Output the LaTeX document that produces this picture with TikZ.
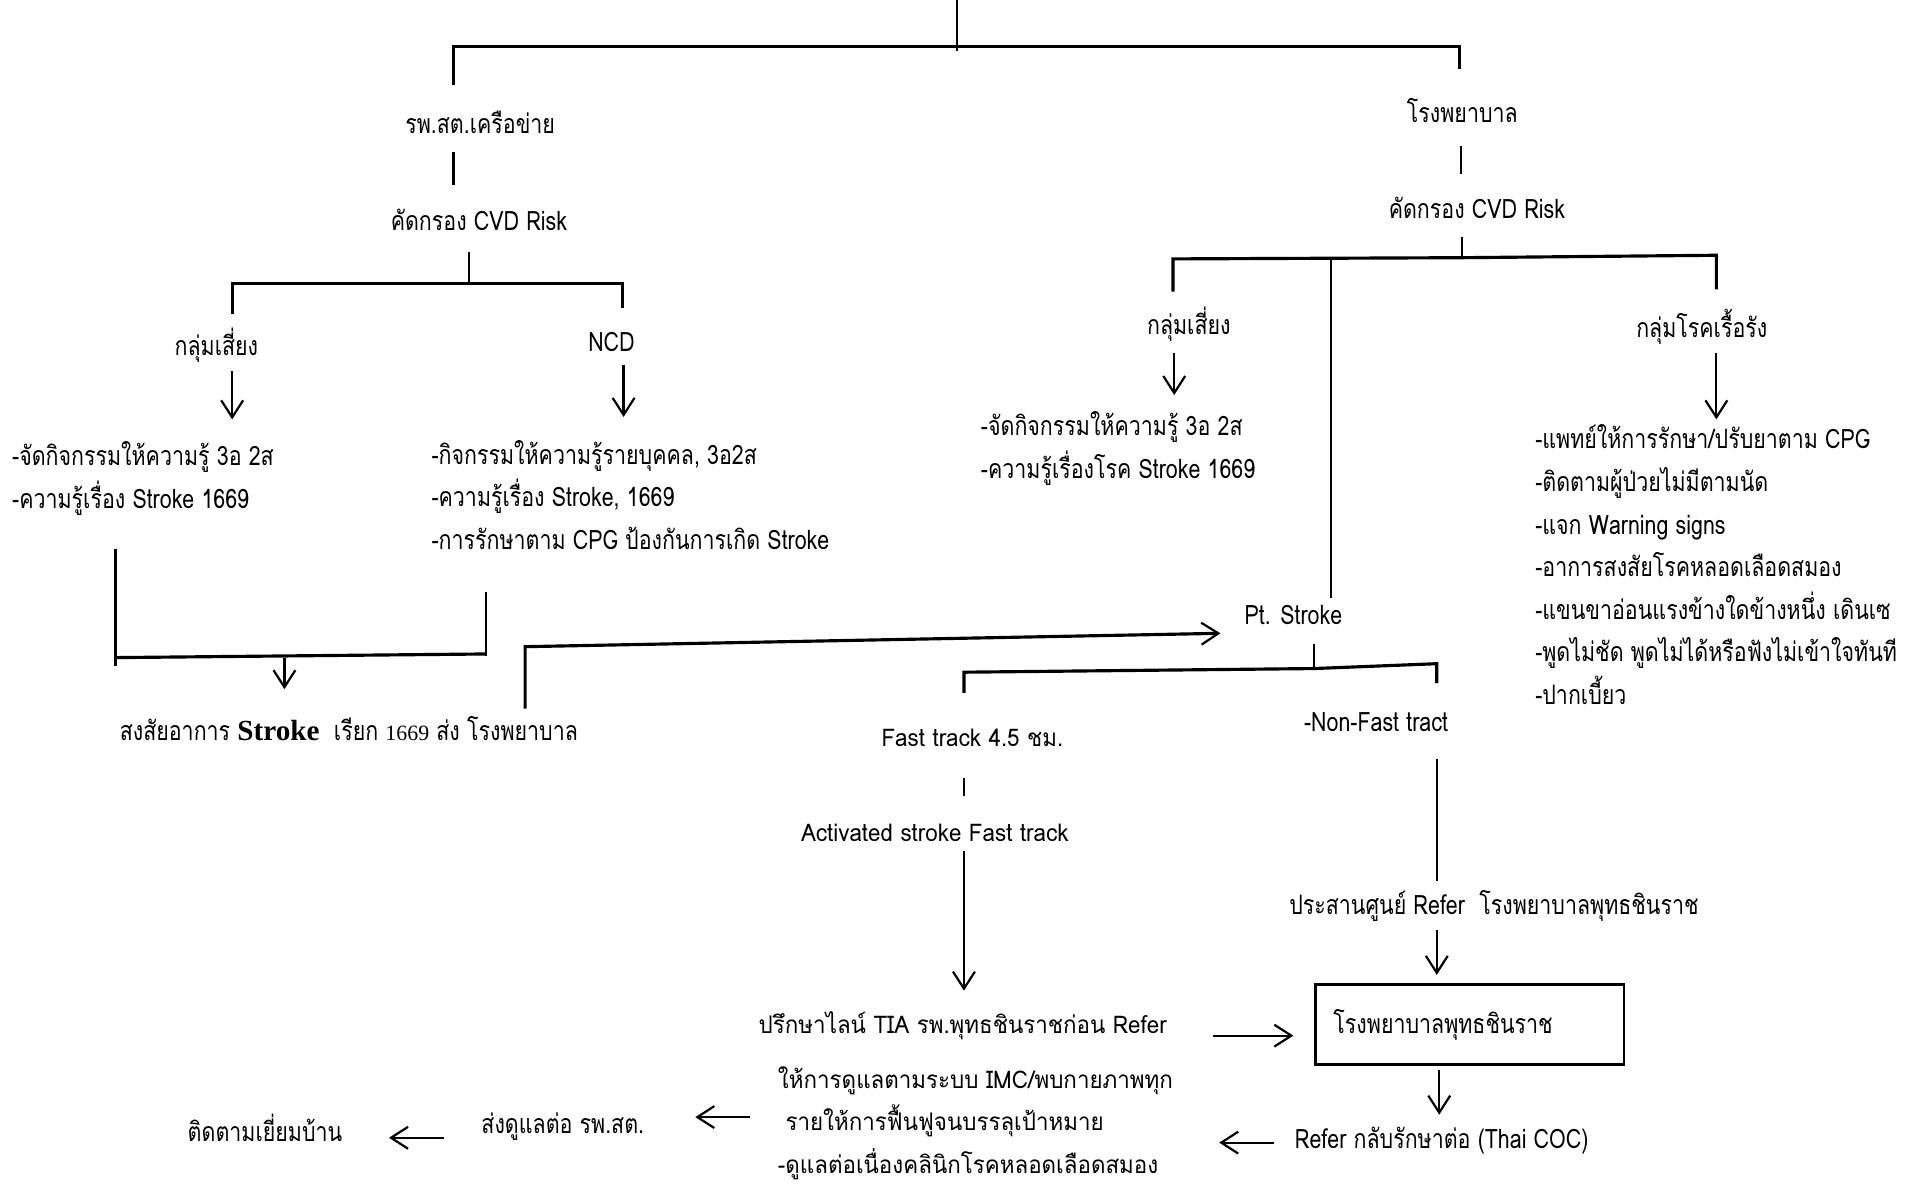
\documentclass[tikz,border=0pt]{standalone}
\usepackage{fontspec}
\setmainfont[Script=Thai]{Loma}
\newfontfamily\thnarrow[Script=Thai,FakeStretch=0.8]{Loma}
\newfontfamily\thwide[Script=Thai,FakeStretch=0.92]{Loma}
\newfontfamily\serifbold{Liberation Serif}
\usetikzlibrary{arrows.meta,calc}

\begin{document}
\begin{tikzpicture}[x=0.5pt,y=-0.5pt,
  every node/.style={inner sep=0pt,outer sep=0pt},
  lbl/.style={font=\thnarrow\fontsize{11}{17.5}\selectfont},
  wlbl/.style={font=\thwide\fontsize{10}{17.5}\selectfont},
  blk/.style={lbl,align=left,anchor=west},
  wblk/.style={wlbl,align=left,anchor=west},
  ln/.style={line width=0.9pt},
  bar/.style={line width=1.3pt},
  tip/.style={-{Straight Barb[length=7pt,width=9pt,line width=0.9pt]}},
  arr/.style={line width=0.9pt,tip},
  hbox/.style={draw,line width=1.2pt,minimum width=127pt,minimum height=33pt,
    text width=112pt,inner xsep=7.5pt,align=left},
]
\useasboundingbox (0,0) rectangle (1568,977);

% ---------- left branch: health-promoting hospitals ----------
\node[lbl] (netw)  at (395,101) {รพ.สต.เครือข่าย};
\node[lbl] (cvdL)  at (394,181) {คัดกรอง CVD Risk};
\node[lbl] (riskL) at (178,284) {กลุ่มเสี่ยง};
\node[lbl] (ncd)   at (503,281) {NCD};
\node[blk] (actL)  at (10,393.5) {-จัดกิจกรรมให้ความรู้ 3อ 2ส\\-ความรู้เรื่อง Stroke 1669};
\node[blk] (actN)  at (355,407) {-กิจกรรมให้ความรู้รายบุคคล, 3อ2ส\\-ความรู้เรื่อง Stroke, 1669\\-การรักษาตาม CPG ป้องกันการเกิด Stroke};
\node[lbl] (susp)  at (287,599) {สงสัยอาการ {\serifbold\bfseries\fontsize{12}{14}\selectfont Stroke}\ \ เรียก {\serifbold\fontsize{9}{12}\selectfont 1669} ส่ง โรงพยาบาล};

% ---------- right branch: hospital ----------
\node[lbl] (hosp)   at (1203,91)  {โรงพยาบาล};
\node[lbl] (cvdR)   at (1215,171) {คัดกรอง CVD Risk};
\node[lbl] (riskR)  at (978,267)  {กลุ่มเสี่ยง};
\node[lbl] (chron)  at (1400,269) {กลุ่มโรคเรื้อรัง};
\node[blk] (actR)   at (807,369)  {-จัดกิจกรรมให้ความรู้ 3อ 2ส\\-ความรู้เรื่องโรค Stroke 1669};
\node[blk] (actC)   at (1263,464.5) {-แพทย์ให้การรักษา/ปรับยาตาม CPG\\-ติดตามผู้ป่วยไม่มีตามนัด\\-แจก Warning signs\\-อาการสงสัยโรคหลอดเลือดสมอง\\-แขนขาอ่อนแรงข้างใดข้างหนึ่ง เดินเซ\\-พูดไม่ชัด พูดไม่ได้หรือฟังไม่เข้าใจทันที\\-ปากเบี้ยว};

% ---------- stroke pathway ----------
\node[lbl]  (pt)      at (1064,506) {Pt. Stroke};
\node[wlbl] (fast)    at (800,607)  {Fast track 4.5 ชม.};
\node[lbl]  (nonfast) at (1132,594) {-Non-Fast tract};
\node[wlbl] (activ)   at (769,685)  {Activated stroke Fast track};
\node[wlbl] (consult) at (792,844)  {ปรึกษาไลน์ TIA รพ.พุทธชินราชก่อน Refer};
\node[lbl]  (coord)   at (1229,745) {ประสานศูนย์ Refer\ \ โรงพยาบาลพุทธชินราช};
\node[hbox,lbl] (bud) at (1209,843) {โรงพยาบาลพุทธชินราช};
\node[lbl]  (back)    at (1186,938) {Refer กลับรักษาต่อ (Thai COC)};
\node[wblk] (imc)     at (640,924)  {ให้การดูแลตามระบบ IMC/พบกายภาพทุก\\\ รายให้การฟื้นฟูจนบรรลุเป้าหมาย\\-ดูแลต่อเนื่องคลินิกโรคหลอดเลือดสมอง};
\node[lbl]  (send)    at (463,927)  {ส่งดูแลต่อ รพ.สต.};
\node[lbl]  (visit)   at (218,928)  {ติดตามเยี่ยมบ้าน};

% ---------- junctions ----------
\coordinate (root)  at (787,0);
\coordinate (jRoot) at (787,38);
\coordinate (jL)    at (373,38);
\coordinate (jR)    at (1201,38);
\coordinate (jCL)   at (386,233);
\coordinate (jCR)   at (1203,212);
\coordinate (jMerge) at (234,541);
\coordinate (jPt)   at (1081,550);

% top split
\draw[ln] (root) -- ($(jRoot)+(0,4)$);
\draw[bar] ($(netw.center)+(-22,-31)$) -- (jL) -- (jR) -- ($(hosp.center)+(-2,-34)$);

% left column
\draw[ln] ($(netw.center)+(-22,24)$) -- ($(cvdL.center)+(-21,-29)$);
\draw[ln] ($(cvdL.center)+(-8,26)$) -- (jCL);
\draw[bar] ($(riskL.center)+(13,-26)$) |- (jCL) -| ($(ncd.center)+(9,-28)$);
\draw[arr] ($(riskL.center)+(13,21)$) -- ($(actL.west)+(181,-48.5)$);
\draw[arr] ($(ncd.center)+(10,19)$) -- ($(actN.west)+(158,-64)$);

% merge of the two left groups
\draw[ln] ($(actL.west)+(85,58.5)$) -- ($(actL.west)+(85,154.5)$);
\draw[ln] ($(actN.west)+(45,80)$) -- ($(actN.west)+(45,133)$);
\draw[bar] ($(actL.west)+(85,147.5)$) -- ($(actN.west)+(45,131)$);
\draw[arr] (jMerge) -- ($(susp.center)+(-53,-32)$);

% emergency call towards the hospital
\draw[bar,tip]
  ($(susp.center)+(145,-16)$) -- ($(susp.center)+(145,-67)$) -- ($(pt.center)+(-60,15)$);

% right column
\draw[ln] ($(hosp.center)+(-1,29)$) -- ($(cvdR.center)+(-13,-28)$);
\draw[ln] ($(cvdR.center)+(-12,24)$) -- (jCR);
\draw[bar] ($(riskR.center)+(-13,-27)$) -- ($(riskR.center)+(-13,-54)$) -- (jCR)
  -- ($(chron.center)+(12,-59)$) -- ($(chron.center)+(12,-31)$);
\draw[ln] ($(riskR.center)+(117,-54)$) -- ($(pt.center)+(31,-14)$);
\draw[arr] ($(riskR.center)+(-12,23)$) -- ($(riskR.center)+(-12,58)$);
\draw[arr] ($(chron.center)+(12,21)$) -- ($(chron.center)+(12,76)$);

% patient split
\draw[ln] ($(pt.center)+(17,24)$) -- (jPt);
\draw[bar] ($(fast.center)+(-7,-37)$) -- ($(fast.center)+(-7,-54)$) -- (jPt)
  -- ($(nonfast.center)+(50,-48)$) -- ($(nonfast.center)+(50,-32)$);

% fast track
\draw[ln] ($(fast.center)+(-7,33)$) -- ($(activ.center)+(24,-30)$);
\draw[arr] ($(activ.center)+(24,15)$) -- ($(consult.center)+(1,-29)$);
\draw[arr] ($(consult.center)+(206,8)$) -- ($(bud.west)+(-18,9)$);

% non fast track
\draw[ln] ($(nonfast.center)+(50,30)$) -- ($(coord.center)+(-47,-20)$);
\draw[arr] ($(coord.center)+(-47,20)$) -- ($(bud.north)+(-27,-8)$);
\draw[arr] ($(bud.south)+(-25,4)$) -- ($(back.center)+(-2,-21)$);

% return and follow-up
\draw[arr] ($(back.center)+(-138,2)$) -- ($(back.center)+(-183,2)$);
\draw[arr] ($(imc.west)+(-23,-5)$) -- ($(imc.west)+(-68,-5)$);
\draw[arr] ($(send.center)+(-98,9)$) -- ($(send.center)+(-143,9)$);
\end{tikzpicture}
\end{document}
